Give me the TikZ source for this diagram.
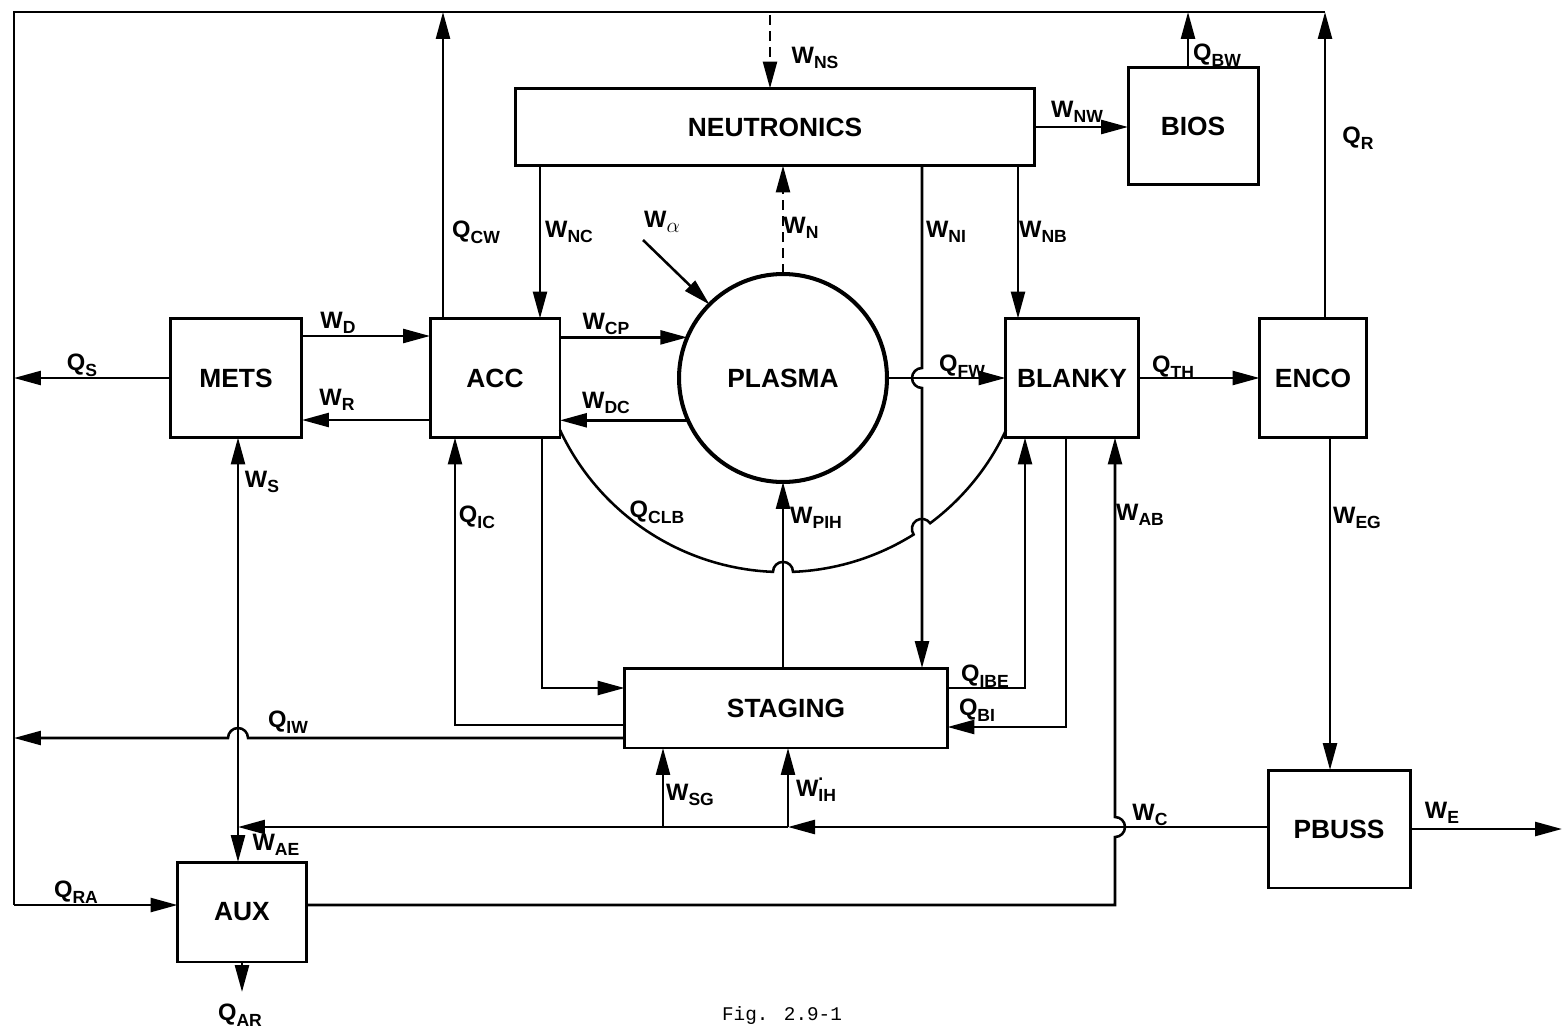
\documentclass[tikz,border=0pt]{standalone}
\usepackage{fontspec}
\setmainfont{Liberation Sans}
\newfontfamily\figfont{Liberation Mono}
\usetikzlibrary{arrows.meta}

\newcommand{\fl}[2]{#1\raisebox{-0.45ex}{\fontsize{10}{10}\selectfont #2}}
\newcommand{\fldot}[2]{#1\rlap{\raisebox{1.2ex}{\fontsize{10}{10}\selectfont .}}\raisebox{-0.45ex}{\fontsize{10}{10}\selectfont #2}}

\begin{document}
\begin{tikzpicture}[
    x=0.02cm, y=-0.02cm,
    box/.style={rectangle, draw, line width=1.7pt, inner sep=0pt, outer sep=0pt,
                align=center, font=\bfseries\fontsize{15}{17}\selectfont},
    flow/.style={line width=1.45pt, line join=miter},
    arrow/.style={flow, -{Triangle[length=0.54cm, width=0.28cm]}},
    neutron/.style={arrow, dash pattern=on 0.2cm off 0.12cm},
    lbl/.style={font=\bfseries\fontsize{13.5}{15}\selectfont, inner sep=1pt}
]
\useasboundingbox (0,0) rectangle (1567,1034);

% blocks
\node[box, minimum width=10.4cm, minimum height=1.54cm] (neut) at (775,127) {NEUTRONICS};
\node[box, minimum width=2.6cm, minimum height=2.36cm] (bios) at (1193,126) {BIOS};
\node[box, minimum width=2.64cm, minimum height=2.38cm] (mets) at (236,378) {METS};
\node[box, minimum width=2.6cm, minimum height=2.38cm] (acc) at (495,378) {ACC};
\node[box, circle, line width=2.3pt, minimum size=4.16cm] (plasma) at (783,378) {PLASMA};
\node[box, minimum width=2.66cm, minimum height=2.38cm] (blanky) at (1072,378) {BLANKY};
\node[box, minimum width=2.14cm, minimum height=2.38cm] (enco) at (1313,378) {ENCO};
\node[box, minimum width=6.46cm, minimum height=1.6cm] (staging) at (786,708) {STAGING};
\node[box, minimum width=2.84cm, minimum height=2.36cm] (pbuss) at (1339,829) {PBUSS};
\node[box, minimum width=2.58cm, minimum height=2.0cm] (aux) at (242,912) {AUX};

% loose ends and junctions
\coordinate (TL) at (14,12);
\coordinate (TR) at (1325,12);
\coordinate (BL) at (14,905);
\coordinate (ns) at (770,15);
\coordinate (wa) at (643,240);
\coordinate (jc) at (238,827);
\coordinate (jsg) at (663,827);
\coordinate (jih) at (788,827);
\coordinate (we) at (1562,829);
\coordinate (qar) at (242,992);

% outer return loop
\draw[flow] (TR) -- (TL) -- (BL);
\draw[arrow] (BL) -- (aux.west |- BL);

% top row
\draw[arrow] (acc.north -| 443,0) -- (TL -| 443,0);
\draw[neutron] (ns) -- (neut.north -| ns);
\draw[arrow] (neut.east) -- (bios.west |- neut.east);
\draw[arrow] (bios.north -| 1188,0) -- (TL -| 1188,0);
\draw[arrow] (enco.north -| TR) -- (TR);

% neutronics outputs
\draw[arrow] (neut.south -| 540,0) -- (acc.north -| 540,0);
\draw[neutron] (plasma.north) -- (neut.south -| plasma.north);
\draw[arrow] (wa) -- (plasma.135);
\draw[arrow] (neut.south -| 922,0) -- (922,368)
    arc[start angle=90, end angle=270, radius=0.2cm] -- (staging.north -| 922,0);
\draw[arrow] (neut.south -| 1018,0) -- (blanky.north -| 1018,0);

% middle row
\draw[arrow] (mets.east |- 0,336) -- (acc.west |- 0,336);
\draw[arrow] (acc.west |- 0,420) -- (mets.east |- 0,420);
\draw[arrow] (mets.west) -- (BL |- mets.west);
\draw[arrow] (acc.east |- plasma.157) -- (plasma.157);
\draw[arrow] (plasma.204) -- (acc.east |- plasma.204);
\draw[arrow] (plasma.east) -- (blanky.west |- plasma.east);
\draw[arrow] (blanky.east) -- (enco.west);

% conduction loss arc
\draw[flow] (acc.east |- 0,430)
    arc[start angle=205, end angle=267.67, radius=4.922cm]
    arc[start angle=180, end angle=0, radius=0.2cm]
    arc[start angle=272.33, end angle=302.07, radius=4.922cm]
    arc[start angle=214.4, end angle=34.4, radius=0.2cm]
    arc[start angle=306.73, end angle=335, radius=4.922cm];

% staging connections
\draw[arrow] (staging.north -| plasma.south) -- (plasma.south);
\draw[arrow] (acc.south -| 542,0) |- (staging.west |- 0,688);
\draw[arrow] (staging.west |- 0,725) -| (acc.south -| 455,0);
\draw[arrow] (staging.west |- 0,738) -- (248,738)
    arc[start angle=0, end angle=180, radius=0.2cm] -- (BL |- 0,738);
\draw[arrow] (staging.east |- 0,688) -| (blanky.south -| 1025,0);
\draw[arrow] (blanky.south -| 1066,0) |- (staging.east |- 0,727);

% power bus
\draw[arrow] (pbuss.west |- jc) -- (jih);
\draw[arrow] (jih) -- (jc);
\draw[arrow] (jih) -- (staging.south -| jih);
\draw[arrow] (jsg) -- (staging.south -| jsg);
\draw[arrow] (jc) -- (mets.south -| jc);
\draw[arrow] (jc) -- (aux.north -| jc);
\draw[arrow] (aux.east |- BL) -| (1115,837)
    arc[start angle=-90, end angle=90, radius=0.2cm] -- (blanky.south -| 1115,0);
\draw[arrow] (enco.south -| 1330,0) -- (pbuss.north -| 1330,0);
\draw[arrow] (pbuss.east) -- (we);
\draw[arrow] (aux.south) -- (qar);

% flow labels
\node[lbl] (lqcw) at (476,232) {\fl{Q}{CW}};
\node[lbl] (lwns) at (815,58) {\fl{W}{NS}};
\node[lbl] (lwnw) at (1077,112) {\fl{W}{NW}};
\node[lbl] (lqbw) at (1217,55) {\fl{Q}{BW}};
\node[lbl] (lqr) at (1358,138) {\fl{Q}{R}};
\node[lbl] (lwnc) at (569,232) {\fl{W}{NC}};
\node[lbl] (lwa) at (662,222) {W\raisebox{-0.45ex}{\fontsize{13}{13}\selectfont$\alpha$}};
\node[lbl] (lwn) at (801,228) {\fl{W}{N}};
\node[lbl] (lwni) at (946,232) {\fl{W}{NI}};
\node[lbl] (lwnb) at (1043,232) {\fl{W}{NB}};
\node[lbl] (lwd) at (338,323) {\fl{W}{D}};
\node[lbl] (lwr) at (337,400) {\fl{W}{R}};
\node[lbl] (lqs) at (82,365) {\fl{Q}{S}};
\node[lbl] (lwcp) at (606,324) {\fl{W}{CP}};
\node[lbl] (lwdc) at (606,403) {\fl{W}{DC}};
\node[lbl] (lqfw) at (962,366) {\fl{Q}{FW}};
\node[lbl] (lqth) at (1173,367) {\fl{Q}{TH}};
\node[lbl] (lqclb) at (657,512) {\fl{Q}{CLB}};
\node[lbl] (lwpih) at (816,518) {\fl{W}{PIH}};
\node[lbl] (lws) at (262,482) {\fl{W}{S}};
\node[lbl] (lqic) at (477,517) {\fl{Q}{IC}};
\node[lbl] (lwab) at (1140,515) {\fl{W}{AB}};
\node[lbl] (lweg) at (1357,518) {\fl{W}{EG}};
\node[lbl] (lqiw) at (288,722) {\fl{Q}{IW}};
\node[lbl] (lqibe) at (985,676) {\fl{Q}{IBE}};
\node[lbl] (lqbi) at (977,710) {\fl{Q}{BI}};
\node[lbl] (lwsg) at (690,795) {\fl{W}{SG}};
\node[lbl] (lwih) at (816,790) {\fldot{W}{IH}};
\node[lbl] (lwc) at (1150,815) {\fl{W}{C}};
\node[lbl] (lwe) at (1442,813) {\fl{W}{E}};
\node[lbl] (lwae) at (276,845) {\fl{W}{AE}};
\node[lbl] (lqra) at (76,892) {\fl{Q}{RA}};
\node[lbl] (lqar) at (240,1015) {\fl{Q}{AR}};

\node[font=\figfont\fontsize{11}{13}\selectfont] (fig) at (782,1015) {Fig. 2.9-1};

\end{tikzpicture}
\end{document}
